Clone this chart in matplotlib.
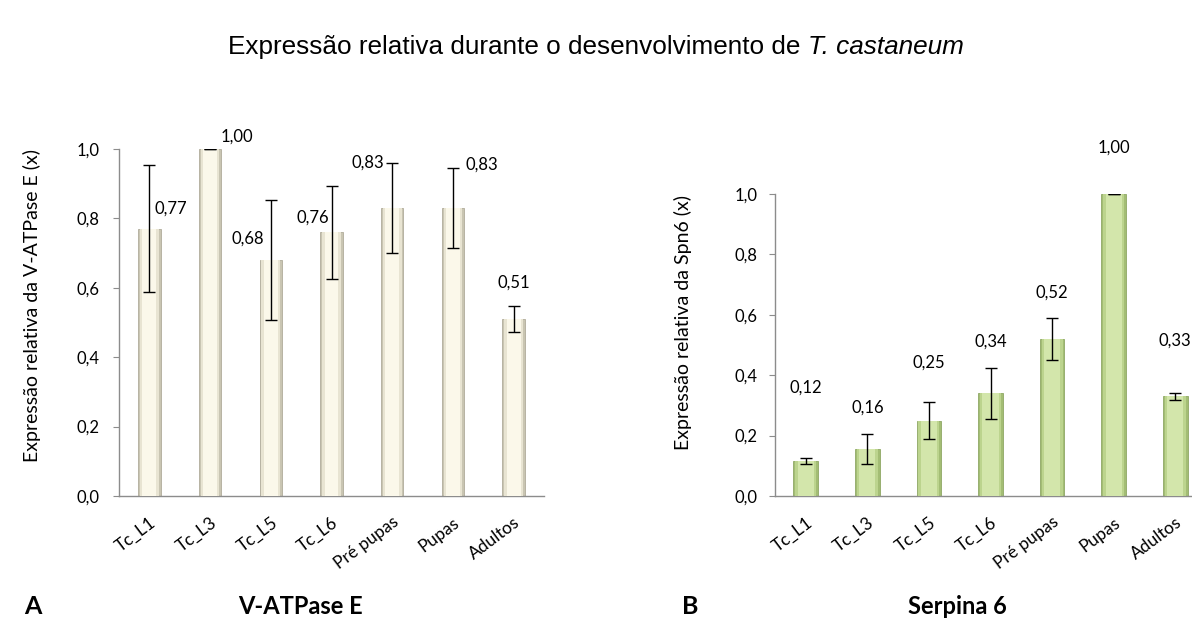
import matplotlib
matplotlib.use("Agg")
import matplotlib.pyplot as plt
from matplotlib.ticker import FuncFormatter
import numpy as np

categories = ["Tc_L1", "Tc_L3", "Tc_L5", "Tc_L6", "Pré pupas", "Pupas", "Adultos"]

vatp_values = [0.77, 1.00, 0.68, 0.76, 0.83, 0.83, 0.51]
vatp_errors = [0.183, 0.0, 0.173, 0.134, 0.13, 0.115, 0.038]
vatp_labels = ["0,77", "1,00", "0,68", "0,76", "0,83", "0,83", "0,51"]

spn_values = [0.115, 0.155, 0.25, 0.34, 0.52, 1.00, 0.33]
spn_errors = [0.01, 0.05, 0.061, 0.085, 0.069, 0.0, 0.0125]
spn_labels = ["0,12", "0,16", "0,25", "0,34", "0,52", "1,00", "0,33"]

# label placement (offset in x categories, y in data units)
vatp_lab_dx = [0.35, 0.45, -0.38, -0.3, -0.4, 0.47, 0.0]
vatp_lab_y = [0.828, 1.036, 0.742, 0.802, 0.962, 0.955, 0.616]
spn_lab_y = [0.36, 0.293, 0.442, 0.51, 0.673, 1.154, 0.513]

body_font = ["Lato", "DejaVu Sans"]
title_font, title_size = "Liberation Sans", 18.8

fig = plt.figure(figsize=(11.92, 6.32), dpi=100)
fig.patch.set_facecolor("white")

fmt = FuncFormatter(lambda v, p: f"{v:.1f}".replace(".", ","))


def style_axes(ax, ylabel, lab_xy, ypad):
    ax.set_xlim(-0.5, 6.5)
    ax.set_ylim(0, 1.0)
    ax.set_yticks(np.arange(0, 1.01, 0.2))
    ax.yaxis.set_major_formatter(fmt)
    for s in ["top", "right"]:
        ax.spines[s].set_visible(False)
    for s in ["left", "bottom"]:
        ax.spines[s].set_color("#8c8c8c")
        ax.spines[s].set_linewidth(1.0)
    ax.tick_params(axis="y", length=4.3, color="#8c8c8c", labelsize=12, pad=ypad)
    ax.tick_params(axis="x", length=0, labelsize=12.5, pad=13)
    x = np.arange(len(categories))
    ax.set_xticks(x)
    ax.set_xticklabels(categories, rotation=37, ha="right", va="top",
                       rotation_mode="anchor", family=body_font)
    for lab in ax.get_yticklabels():
        lab.set_family(body_font)
    ax.set_ylabel(ylabel, fontsize=14, family=body_font)
    ax.yaxis.label.set_va("center")
    ax.yaxis.set_label_coords(*lab_xy)


x = np.arange(len(categories))

# Left: V-ATPase E
ax1 = fig.add_axes([119 / 1192, 136 / 632, 425 / 1192, 347 / 632])
ax1.bar(x, vatp_values, width=0.37, color="#c9c5b2", edgecolor="#b0ac9a", linewidth=0.6, zorder=2)
ax1.bar(x, vatp_values, width=0.31, color="#e8e4d2", linewidth=0, zorder=3)
ax1.bar(x, vatp_values, width=0.23, color="#fbf8ea", linewidth=0, zorder=3)
ax1.errorbar(x, vatp_values, yerr=vatp_errors, fmt="none", ecolor="black",
             elinewidth=1.0, capsize=4, capthick=1.0, zorder=4)
for i, (lab, dx, yy) in enumerate(zip(vatp_labels, vatp_lab_dx, vatp_lab_y)):
    ax1.text(i + dx, yy, lab, ha="center", va="center", fontsize=12, family=body_font,
             clip_on=False)
style_axes(ax1, "Expressão relativa da V-ATPase E (x)", (-0.205, 0.55), 9.5)

# Right: Serpina 6
ax2 = fig.add_axes([775 / 1192, 136 / 632, 431 / 1192, 302 / 632])
ax2.bar(x, spn_values, width=0.40, color="#a3bd74", edgecolor="#8fa865", linewidth=0.6, zorder=2)
ax2.bar(x, spn_values, width=0.34, color="#bcd48e", linewidth=0, zorder=3)
ax2.bar(x, spn_values, width=0.26, color="#d3e6ab", linewidth=0, zorder=3)
ax2.errorbar(x, spn_values, yerr=spn_errors, fmt="none", ecolor="black",
             elinewidth=1.0, capsize=4, capthick=1.0, zorder=4)
for i, (lab, yy) in enumerate(zip(spn_labels, spn_lab_y)):
    ax2.text(i, yy, lab, ha="center", va="center", fontsize=12, family=body_font,
             clip_on=False)
style_axes(ax2, "Expressão relativa da Spn6 (x)", (-0.213, 0.573), 8)

# Title: regular part + italic species name, centred together
ty = 1 - 47 / 632
t1 = fig.text(0, ty, "Expressão relativa durante o desenvolvimento de ", ha="left",
              va="center", fontsize=title_size, family=title_font)
t2 = fig.text(0, ty, "T. castaneum", ha="left", va="center", fontsize=title_size,
              family=title_font, style="italic")
fig.canvas.draw()
r = fig.canvas.get_renderer()
w1 = t1.get_window_extent(r).width
w2 = t2.get_window_extent(r).width
W = fig.bbox.width
start = (W - (w1 + w2)) / 2
t1.set_x(start / W)
t2.set_x((start + w1) / W)

# Panel labels
fig.text(33 / 1192, 1 - 606 / 632, "A", ha="center", va="center", fontsize=18,
         fontweight="bold", family=body_font)
fig.text(300 / 1192, 1 - 606 / 632, "V-ATPase E", ha="center", va="center", fontsize=17,
         fontweight="bold", family=body_font)
fig.text(690 / 1192, 1 - 606 / 632, "B", ha="center", va="center", fontsize=18,
         fontweight="bold", family=body_font)
fig.text(957 / 1192, 1 - 606 / 632, "Serpina 6", ha="center", va="center", fontsize=17,
         fontweight="bold", family=body_font)

fig.savefig("out.png", dpi=100, facecolor="white")
